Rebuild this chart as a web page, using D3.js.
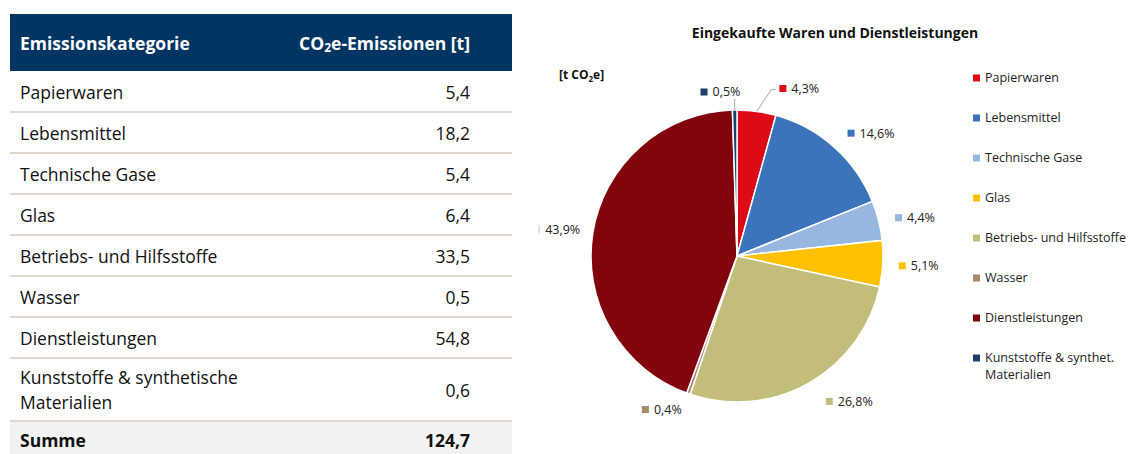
<!DOCTYPE html>
<html><head><meta charset="utf-8">
<script src="https://cdn.jsdelivr.net/npm/d3@7"></script>
<style>body{margin:0;background:#fff}svg{display:block}</style>
</head><body>
<script>
// ---- data ----
const categories = ["Papierwaren","Lebensmittel","Technische Gase","Glas","Betriebs- und Hilfsstoffe","Wasser","Dienstleistungen","Kunststoffe & synthetische Materialien"];
const tableLabels = [["Papierwaren"],["Lebensmittel"],["Technische Gase"],["Glas"],["Betriebs- und Hilfsstoffe"],["Wasser"],["Dienstleistungen"],["Kunststoffe & synthetische","Materialien"]];
const emissions = [5.4,18.2,5.4,6.4,33.5,0.5,54.8,0.6];
const totalLabel = "124,7";
const shares = [4.3,14.6,4.4,5.1,26.8,0.4,43.9,0.5];
const legendLabels = [["Papierwaren"],["Lebensmittel"],["Technische Gase"],["Glas"],["Betriebs- und Hilfsstoffe"],["Wasser"],["Dienstleistungen"],["Kunststoffe & synthet.","Materialien"]];
const colors = ["#DE0A17","#3B74BA","#96B7E0","#FFC000","#C3BD7B","#A7896C","#82040C","#1F3E6E"];

const fmt = v => d3.format(".1f")(v).replace(".", ",");

const W = 1131, H = 454;
const svg = d3.select("body").append("svg").attr("width", W).attr("height", H);
const FONT = "'Open Sans', sans-serif";
const TF = 17.5;

// ---- table ----
const tX0 = 10, tX1 = 512, headTop = 14, headBot = 71;
const rowH = [41,41,41,41,41,41,41,63];
const tbl = svg.append("g").attr("font-family", FONT).attr("fill", "#111");
tbl.append("rect").attr("x", tX0).attr("y", headTop).attr("width", tX1 - tX0).attr("height", headBot - headTop).attr("fill", "#023561");
tbl.append("text").attr("x", 20).attr("y", 44).attr("dy", "0.35em").attr("fill", "#fff").attr("font-weight", "bold").attr("font-size", TF).text("Emissionskategorie");
const ht = tbl.append("text").attr("x", 470).attr("y", 44).attr("dy", "0.35em").attr("text-anchor", "end").attr("fill", "#fff").attr("font-weight", "bold").attr("font-size", TF);
ht.append("tspan").text("CO");
ht.append("tspan").attr("font-size", 12).attr("dy", 2).text("2");
ht.append("tspan").attr("dy", -2).text("e-Emissionen [t]");

let y = headBot;
categories.forEach((c, i) => {
  const h = rowH[i];
  const lines = tableLabels[i];
  const cy = y + h / 2 + 1;
  lines.forEach((ln, j) => {
    tbl.append("text").attr("x", 20).attr("y", cy + (j - (lines.length - 1) / 2) * 25).attr("dy", "0.35em").attr("font-size", TF).attr("fill", "#111").text(ln);
  });
  tbl.append("text").attr("x", 470).attr("y", cy).attr("dy", "0.35em").attr("text-anchor", "end").attr("font-size", TF).attr("fill", "#111").text(fmt(emissions[i]));
  y += h;
  tbl.append("line").attr("x1", tX0).attr("x2", tX1).attr("y1", y).attr("y2", y).attr("stroke", "#D6CBBF").attr("stroke-width", 1.5);
});
tbl.insert("rect", "line").attr("x", tX0).attr("y", y + 1).attr("width", tX1 - tX0).attr("height", H - y).attr("fill", "#F2F2F2");
tbl.append("text").attr("x", 20).attr("y", y + 20).attr("dy", "0.35em").attr("font-weight", "bold").attr("font-size", TF).text("Summe");
tbl.append("text").attr("x", 470).attr("y", y + 20).attr("dy", "0.35em").attr("text-anchor", "end").attr("font-weight", "bold").attr("font-size", TF).text(totalLabel);

// ---- pie chart ----
const chart = svg.append("g").attr("font-family", FONT);
chart.append("text").attr("x", 835).attr("y", 33).attr("dy", "0.35em").attr("text-anchor", "middle").attr("font-weight", "bold").attr("font-size", 14).attr("fill", "#111").text("Eingekaufte Waren und Dienstleistungen");
const unit = chart.append("text").attr("x", 559).attr("y", 75).attr("dy", "0.35em").attr("font-weight", "bold").attr("font-size", 12).attr("fill", "#111");
unit.append("tspan").text("[t CO");
unit.append("tspan").attr("font-size", 8).attr("dy", 3).text("2");
unit.append("tspan").attr("dy", -3).text("e]");

const cx = 737, cy0 = 256, R = 146;
const pie = d3.pie().sort(null).value(d => d);
const arcs = pie(shares);
const arc = d3.arc().innerRadius(0).outerRadius(R);
const g = chart.append("g").attr("transform", `translate(${cx},${cy0})`);
g.selectAll("path").data(arcs).join("path").attr("d", arc).attr("fill", (d, i) => colors[i]).attr("stroke", "#fff").attr("stroke-width", 1.5);

// labels
const labelR = R + 20;
const offsets = [[20,-3],[0,1],[-3,2],[-4,1],[7,1],[0,-3],[7,0],[6,2]];
const leaders = [true,false,false,false,false,false,false,true];
const showKey = [true,true,true,true,true,true,false,true];
const mid = d => (d.startAngle + d.endAngle) / 2;
arcs.forEach((d, i) => {
  const a = mid(d);
  const px = Math.sin(a) * labelR + offsets[i][0];
  const py = -Math.cos(a) * labelR + offsets[i][1];
  const right = Math.sin(a) > 0 && i !== 7;
  const txt = fmt(shares[i]) + "%";
  const lg = g.append("g");
  const t = lg.append("text").attr("y", py).attr("dy", "0.35em").attr("font-size", 12.5).attr("fill", "#222").text(txt);
  const tw = t.node().getComputedTextLength();
  let sqX, tx;
  if (right) { sqX = px; tx = px + 12; }
  else { tx = px - tw; sqX = tx - 12; }
  t.attr("x", tx);
  if (showKey[i]) {
    lg.append("rect").attr("x", sqX).attr("y", py - 3.5).attr("width", 7).attr("height", 7).attr("fill", colors[i]);
  } else {
    g.append("line").attr("x1", tx - 6).attr("x2", tx - 6).attr("y1", py - 4).attr("y2", py + 4).attr("stroke", "#E3B9BE").attr("stroke-width", 1);
  }
  if (leaders[i]) {
    const ex = Math.sin(a) * R, ey = -Math.cos(a) * R;
    if (i === 0) {
      g.append("polyline").attr("points", `${ex},${ey} ${sqX - 8},${py + 1} ${sqX - 4},${py + 1}`).attr("fill", "none").attr("stroke", "#A6A6A6").attr("stroke-width", 1);
    } else {
      g.append("line").attr("x1", ex).attr("y1", ey).attr("x2", ex).attr("y2", py + 7).attr("stroke", "#A6A6A6").attr("stroke-width", 1);
    }
  }
});

// legend
const leg = chart.append("g").attr("font-size", 12.5).attr("fill", "#222");
const legY = d3.scalePoint().domain(d3.range(categories.length)).range([78, 358]);
categories.forEach((c, i) => {
  const ly = legY(i);
  leg.append("rect").attr("x", 973).attr("y", ly - 3.5).attr("width", 7).attr("height", 7).attr("fill", colors[i]);
  legendLabels[i].forEach((ln, j) => {
    leg.append("text").attr("x", 985).attr("y", ly + j * 17).attr("dy", "0.35em").text(ln);
  });
});
</script>
</body></html>
